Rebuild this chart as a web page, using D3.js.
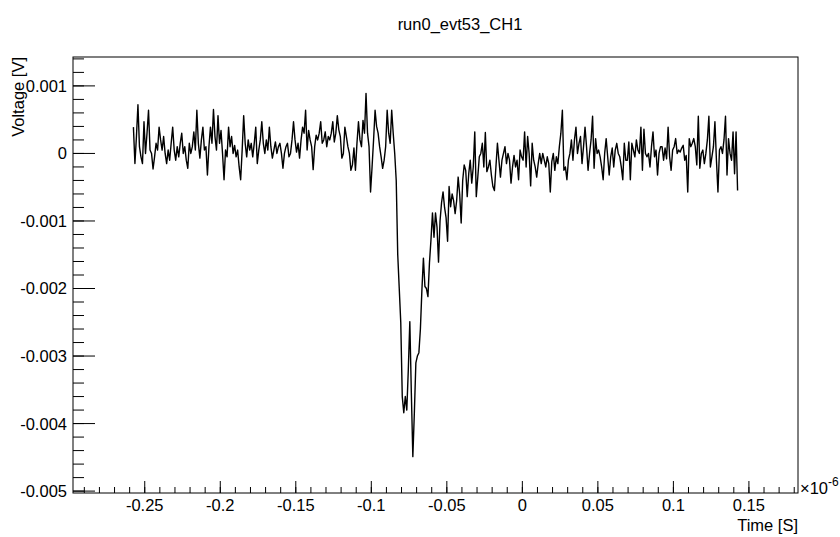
<!DOCTYPE html>
<html>
<head>
<meta charset="utf-8">
<script src="https://cdn.jsdelivr.net/npm/d3@7"></script>
<style>
  html, body { margin: 0; padding: 0; background: #fff; }
  text { font-family: "Liberation Sans", Arial, Helvetica, sans-serif; fill: #000; }
</style>
</head>
<body>
<svg id="chart" width="840" height="537"></svg>
<script>
// ---- data ----
const chartTitle = "run0_evt53_CH1";
const xTitle = "Time [S]";
const yTitle = "Voltage [V]";
const xExponent = "-6";
const tStartUs = -0.2575;      // first sample time, in units of 1e-6 s
const sampleStepUs = 0.001;    // sample spacing, in units of 1e-6 s
// waveform samples in mV
const voltageMv = [
  0.39, -0.15, 0.25, 0.72, 0.1, -0.05, -0.15, 0.47, 0.0, 0.3, 0.64, 0.05, 0.0, -0.23, -0.05, 0.15, 0.05, 0.39, 0.2, 0.05,
  0.25, 0.0, -0.15, 0.05, -0.1, 0.15, 0.39, 0.05, -0.1, 0.1, -0.05, 0.15, 0.3, 0.0, 0.1, -0.1, -0.22, 0.15, 0.0, 0.1,
  0.32, 0.05, 0.64, 0.15, -0.07, 0.2, 0.39, 0.05, 0.1, -0.32, 0.1, 0.39, 0.15, 0.65, 0.25, 0.05, 0.56, 0.15, 0.34, 0.0,
  -0.39, 0.05, -0.05, 0.39, 0.1, 0.25, 0.0, 0.12, -0.05, 0.05, -0.2, -0.39, 0.05, 0.56, 0.15, -0.05, 0.2, 0.05, 0.15, -0.05,
  0.15, 0.39, -0.15, 0.05, 0.2, 0.47, 0.15, 0.0, 0.2, 0.05, 0.39, 0.1, -0.07, 0.05, 0.17, 0.0, 0.1, 0.15, 0.0, -0.22,
  0.0, 0.1, 0.15, -0.05,
  0.0, 0.2, 0.47, 0.2, 0.02, 0.15, -0.07, 0.2, 0.39, 0.3, 0.64, 0.05, 0.34, 0.2, 0.1, -0.24,
  0.1, 0.27, 0.2, 0.3, 0.47, 0.15, 0.2, 0.32, 0.1, 0.25, 0.2, 0.3, 0.47, 0.17, 0.3, 0.56, 0.35, 0.25, -0.07, 0.0,
  0.39, 0.25, 0.1, 0.0, -0.25, -0.17, 0.08, -0.25, 0.15, 0.47, 0.2, 0.1, 0.49, 0.3, 0.89, 0.3, 0.1, -0.57, -0.2, 0.2,
  0.64, 0.4, 0.3, 0.1, -0.05, -0.22, -0.1, 0.1, 0.64, 0.3, 0.15, 0.64, 0.3, 0.0, -0.4, -1.5, -2.0, -2.5, -3.6, -3.84,
  -3.6, -3.8, -3.2, -2.49, -3.54, -4.49, -3.84, -3.1, -3.0, -2.95, -2.6, -2.02, -1.55, -1.97, -2.0, -2.12, -1.62, -1.28, -0.88, -1.24,
  -0.88, -1.09, -1.61, -1.0, -0.73, -0.57, -0.8, -0.95, -1.3, -0.49, -0.79, -0.6, -0.7, -0.89, -0.7, -0.35, -0.6, -1.03, -0.4, -0.17,
  -0.25, -0.64, -0.3, -0.1, -0.44, -0.2, 0.32, -0.64, -0.35, -0.05, 0.0, 0.15, -0.2, 0.31, -0.27, -0.2, -0.1, -0.32, -0.49, -0.55,
  -0.2, 0.15, -0.1, -0.35, -0.1, 0.0, 0.1, -0.15, 0.0, -0.1, -0.44, -0.2, -0.03, -0.2, -0.1, -0.39, 0.05, -0.05, -0.1, 0.32,
  -0.2, 0.25, 0.0, -0.48, 0.15, -0.1, -0.2, -0.35, -0.15, 0.0, -0.15, 0.0, -0.1, -0.2, -0.05, -0.15, -0.57, -0.12, 0.0, -0.25,
  -0.05, -0.15, 0.1, 0.3, 0.64, -0.25, -0.2, -0.39, -0.1, 0.0, 0.2, -0.1, 0.2, 0.39, 0.0, 0.15, 0.25, -0.15, 0.1, 0.39,
  0.1, -0.25, 0.0, 0.2, 0.55, -0.22, 0.22, 0.0, 0.05, -0.05, -0.2, -0.39, 0.0, 0.22, -0.05, -0.32, -0.05, 0.08, -0.2, 0.05,
  0.15, 0.0, -0.05, -0.2, -0.39, 0.15, -0.1, -0.1, 0.17, -0.39, 0.15, 0.05, -0.05, 0.2, 0.05, 0.0, 0.39, -0.25, 0.36, 0.0,
  -0.05, 0.0, -0.2, 0.1, 0.32, -0.05, 0.05, -0.32, 0.0, 0.1, 0.1, -0.1, 0.08, -0.08, 0.39, -0.05, -0.25, 0.05, 0.1, 0.22,
  0.0, 0.05, 0.02, 0.08, 0.12, -0.1, -0.03, -0.57, 0.22, 0.1, 0.15, 0.22, 0.1, -0.17, 0.55, -0.22, 0.0, 0.05, -0.15, 0.0,
  0.2, 0.55, -0.2, -0.05, 0.1, 0.47, -0.1, -0.57, 0.05, 0.1, 0.0, 0.2, 0.55, -0.32, 0.22, 0.0, -0.1, 0.32, -0.3, 0.32, -0.55
];
const xMajorTicks = [-0.25, -0.2, -0.15, -0.1, -0.05, 0, 0.05, 0.1, 0.15];
const xTickLabels = ["-0.25", "-0.2", "-0.15", "-0.1", "-0.05", "0", "0.05", "0.1", "0.15"];
const yMajorTicks = [-0.005, -0.004, -0.003, -0.002, -0.001, 0, 0.001];
const yTickLabels = ["-0.005", "-0.004", "-0.003", "-0.002", "-0.001", "0", "0.001"];

// ---- derived points ----
const points = voltageMv.map((mv, i) => ({ t: tStartUs + i * sampleStepUs, v: mv / 1000 }));

// ROOT-like axis ranges: data extent plus 10% margin each side
const tExt = d3.extent(points, d => d.t);
const vExt = d3.extent(points, d => d.v);
const tPad = 0.1 * (tExt[1] - tExt[0]);
const vPad = 0.1 * (vExt[1] - vExt[0]);

// ---- layout ----
const frame = { left: 73, right: 798, top: 57, bottom: 493 };
const svg = d3.select("#chart");

const x = d3.scaleLinear().domain([tExt[0] - tPad, tExt[1] + tPad]).range([frame.left, frame.right]);
const y = d3.scaleLinear().domain([vExt[0] - vPad, vExt[1] + vPad]).range([frame.bottom, frame.top]);

// title
svg.append("text")
  .attr("x", 460).attr("y", 30)
  .attr("text-anchor", "middle")
  .style("font-size", "16.5px")
  .text(chartTitle);

// waveform (clipped to frame)
svg.append("clipPath").attr("id", "clip")
  .append("rect")
  .attr("x", frame.left).attr("y", frame.top)
  .attr("width", frame.right - frame.left).attr("height", frame.bottom - frame.top);

const line = d3.line().x(d => x(d.t)).y(d => y(d.v));
svg.append("path")
  .datum(points)
  .attr("clip-path", "url(#clip)")
  .attr("fill", "none")
  .attr("stroke", "#000")
  .attr("stroke-width", 1.4)
  .attr("stroke-linejoin", "round")
  .attr("d", line);

// frame
svg.append("rect")
  .attr("x", frame.left).attr("y", frame.top)
  .attr("width", frame.right - frame.left).attr("height", frame.bottom - frame.top)
  .attr("fill", "none").attr("stroke", "#000").attr("stroke-width", 1);

// ---- X axis ticks (inside, pointing up) ----
const xMinor = d3.range(-29, 19, 1).map(k => k / 100).filter(v => v >= x.domain()[0] && v <= x.domain()[1]);
const gx = svg.append("g");
gx.selectAll("line.minor").data(xMinor).join("line")
  .attr("x1", d => x(d)).attr("x2", d => x(d))
  .attr("y1", frame.bottom).attr("y2", frame.bottom - 6)
  .attr("stroke", "#000").attr("stroke-width", 1);
gx.selectAll("line.major").data(xMajorTicks).join("line")
  .attr("x1", d => x(d)).attr("x2", d => x(d))
  .attr("y1", frame.bottom).attr("y2", frame.bottom - 12)
  .attr("stroke", "#000").attr("stroke-width", 1);
gx.selectAll("text").data(xMajorTicks).join("text")
  .attr("x", d => x(d)).attr("y", 511)
  .attr("text-anchor", "middle")
  .style("font-size", "16.5px")
  .text((d, i) => xTickLabels[i]);

// exponent label
const expText = svg.append("text").attr("x", 800).attr("y", 494).style("font-size", "16.5px");
expText.append("tspan").text("\u00d710");
expText.append("tspan").attr("dy", -8).style("font-size", "12px").text(xExponent);

// x title
svg.append("text")
  .attr("x", frame.right).attr("y", 531)
  .attr("text-anchor", "end")
  .style("font-size", "16.5px")
  .text(xTitle);

// ---- Y axis ticks (inside, pointing right) ----
const yMinor = d3.range(-50, 15, 2).map(k => k / 10000).filter(v => v >= y.domain()[0] && v <= y.domain()[1]);
const gy = svg.append("g");
gy.selectAll("line.minor").data(yMinor).join("line")
  .attr("x1", frame.left).attr("x2", frame.left + 11)
  .attr("y1", d => y(d)).attr("y2", d => y(d))
  .attr("stroke", "#000").attr("stroke-width", 1);
gy.selectAll("line.major").data(yMajorTicks).join("line")
  .attr("x1", frame.left).attr("x2", frame.left + 22)
  .attr("y1", d => y(d)).attr("y2", d => y(d))
  .attr("stroke", "#000").attr("stroke-width", 1);
gy.selectAll("text").data(yMajorTicks).join("text")
  .attr("x", 67).attr("y", d => y(d))
  .attr("dy", "0.36em")
  .attr("text-anchor", "end")
  .style("font-size", "16.5px")
  .text((d, i) => yTickLabels[i]);

// y title
svg.append("text")
  .attr("transform", `translate(24,${frame.top}) rotate(-90)`)
  .attr("text-anchor", "end")
  .style("font-size", "16.5px")
  .text(yTitle);
</script>
</body>
</html>
